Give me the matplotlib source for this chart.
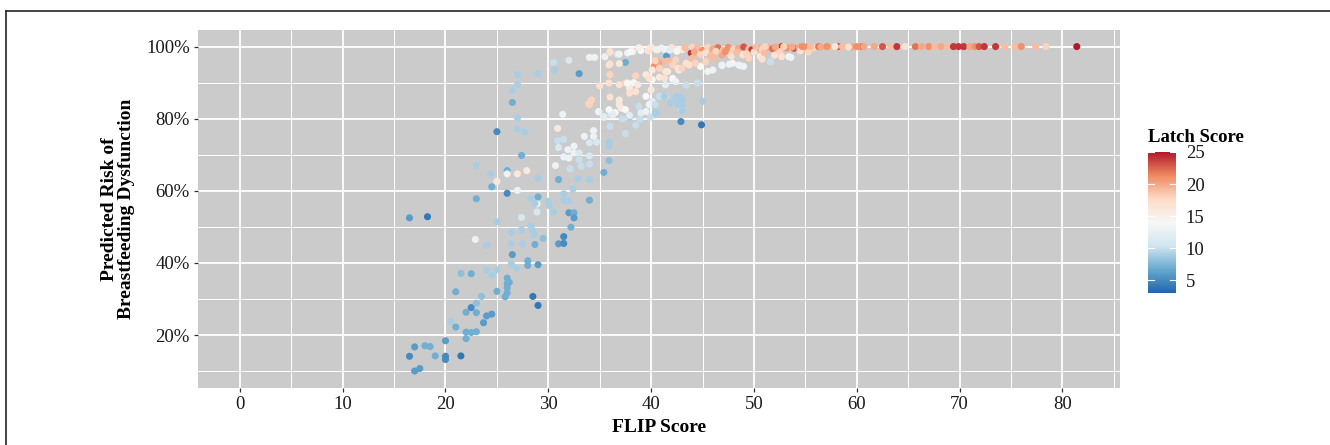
import matplotlib
matplotlib.use("Agg")
import matplotlib.pyplot as plt
from matplotlib.colors import LinearSegmentedColormap
from matplotlib.ticker import MultipleLocator, PercentFormatter
from matplotlib.lines import Line2D

plt.rcParams['font.family'] = ['Liberation Serif', 'DejaVu Serif']

flip_score = [
    # low, blue cluster
    16.5, 18.25, 17.0, 17.5, 16.5, 17.0, 18.0, 18.5, 19.0, 20.0,
    20.0, 20.0, 21.5, 20.5, 21.0, 22.0, 22.0, 22.5, 23.0, 22.0,
    22.5, 23.0, 23.0, 23.5, 23.7, 24.0, 24.5, 21.0, 21.5, 22.5,
    22.9, 24.0, 24.0, 24.5, 25.0, 25.0, 25.0, 25.8, 26.0, 26.0,
    26.0, 26.2, 26.0, 26.4, 26.9, 26.5, 26.4, 27.5, 28.7, 26.4,
    27.4, 28.3, 28.5, 28.6, 27.4, 28.0, 28.0, 29.0, 28.5, 29.0,
    29.5, 28.9, 28.9,
    # middle
    26.5, 27.0, 27.0, 27.7, 25.0, 27.4, 23.0, 24.4, 26.0, 26.0,
    27.0, 27.9, 25.0, 24.5, 26.0, 27.0, 23.0, 29.0, 29.0, 28.3,
    28.7, 30.0, 30.1, 30.5, 31.0, 31.5, 31.5, 32.0, 32.0, 32.5,
    32.5, 32.2, 31.5, 31.0, 31.5, 32.4, 32.9, 34.0, 34.0, 30.7,
    31.5, 32.0, 32.1, 30.9, 31.5, 31.0, 30.9, 31.4, 31.9, 32.5,
    32.5, 33.0, 33.0, 33.2, 34.0, 34.0, 34.0, 33.5, 34.4, 34.4,
    34.7, 34.9, 35.9, 35.9, 35.9, 35.4, 35.4, 36.0, 36.1, 37.5,
    38.5, 38.9, 39.9, 40.5,
    # upper
    30.5, 32.0, 30.6, 33.0, 27.0, 29.0, 27.0, 26.5, 34.0, 34.5,
    35.5, 36.0, 36.7, 36.0, 36.0, 37.5, 37.7, 38.2, 39.0, 39.7,
    40.5, 41.4, 42.1, 43.0, 41.5, 40.5, 40.3, 43.9, 35.0, 34.2,
    33.9, 36.0, 36.9, 35.9, 36.5, 37.1, 37.5, 34.9, 35.4, 36.3,
    37.2, 37.9, 35.9, 36.9, 37.5, 38.3, 38.5, 39.5, 40.1, 40.8,
    41.4, 42.1, 42.7, 43.4, 44.5, 42.6, 43.0, 42.9, 45.0, 41.4,
    41.9, 42.9, 44.9, 40.1, 40.8, 41.4, 42.4, 43.4, 44.0, 44.8,
    45.5, 46.0, 46.9, 47.9, 48.5, 49.0, 51.6,
    36.0, 36.9, 38.0, 39.8, 40.6, 42.4, 35.9, 36.9, 40.4, 40.8,
    41.6, 42.1, 41.6, 42.6, 43.0, 43.7, 44.3, 45.3, 46.1, 46.9,
    47.6, 48.9, 46.9, 47.6, 48.7, 53.4, 39.8, 41.3, 41.4, 42.1,
    42.4, 37.9, 38.5, 39.5, 40.0, 40.1, 40.8, 41.3, 42.4, 42.9,
    42.6, 43.0, 43.0, 34.0, 37.7, 38.7, 37.9, 36.9, 37.9, 38.8,
    39.0, 39.5, 39.8, 40.4, 40.4,
    # top band
    38.8, 40.0, 41.0, 42.0, 43.3, 44.0, 41.8, 42.5, 44.5, 45.0,
    45.5, 46.0, 46.5, 47.0, 47.5, 48.0, 48.5, 49.0, 49.5, 49.8,
    50.3, 50.8, 51.3, 51.8, 52.3, 52.7, 53.2, 53.9, 54.4, 55.0,
    55.8, 56.3, 57.5, 58.2, 59.5, 60.5, 44.2, 44.8, 45.3, 45.8,
    46.3, 47.2, 47.8, 48.3, 49.3, 50.0, 50.6, 51.0, 52.0, 52.5,
    53.6, 52.7, 54.5, 55.3, 49.5, 50.8,
    # right-hand row
    50.2, 51.1, 52.1, 52.9, 53.7, 54.7, 55.5, 56.5, 57.1, 57.9,
    58.6, 59.2, 60.0, 60.7, 61.7, 62.5, 63.3, 63.9, 64.7, 65.7,
    66.3, 67.0, 67.6, 68.2, 68.8, 69.4, 69.9, 70.4, 71.0, 71.5,
    71.9, 72.4, 73.5, 74.4, 75.4, 76.0, 77.4, 78.4, 81.4,
]

predicted_risk = [
    52.5, 52.8, 10.0, 10.7, 14.1, 16.7, 17.0, 16.8, 14.2, 14.1,
    13.2, 18.4, 14.2, 23.7, 22.2, 20.8, 19.0, 20.7, 20.9, 26.3,
    27.6, 26.2, 28.8, 30.7, 23.4, 25.3, 25.8, 32.0, 37.1, 37.0,
    46.5, 44.9, 38.0, 36.6, 38.1, 32.1, 51.4, 30.6, 31.7, 33.1,
    34.3, 34.6, 35.8, 39.7, 38.4, 42.3, 45.3, 45.3, 45.1, 48.5,
    49.2, 50.2, 49.0, 47.9, 52.6, 40.6, 39.3, 39.5, 30.7, 28.2,
    46.8, 56.4, 54.1,
    84.5, 80.2, 77.1, 76.3, 76.4, 69.8, 67.0, 64.7, 65.6, 64.7,
    64.7, 65.6, 62.6, 61.1, 59.3, 60.1, 57.8, 63.4, 58.3, 57.9,
    56.5, 57.1, 55.9, 54.1, 63.1, 59.2, 57.5, 57.1, 53.9, 53.9,
    52.5, 49.9, 47.3, 45.3, 45.4, 60.5, 63.3, 63.1, 57.4, 67.0,
    69.4, 69.1, 66.1, 73.9, 74.3, 72.0, 77.3, 81.2, 71.4, 72.4,
    70.5, 70.5, 68.6, 66.8, 67.4, 69.7, 73.3, 75.1, 76.7, 75.1,
    73.5, 81.9, 73.6, 72.3, 68.4, 65.1, 80.4, 77.9, 81.2, 75.9,
    78.2, 79.9, 80.4, 81.7,
    95.6, 96.2, 93.5, 92.5, 92.2, 92.5, 89.5, 87.8, 97.0, 97.0,
    97.2, 98.3, 97.9, 95.2, 92.2, 95.6, 98.2, 98.6, 98.9, 98.9,
    99.1, 98.9, 99.4, 99.1, 97.4, 96.0, 94.5, 98.2, 89.1, 85.2,
    84.1, 86.0, 85.2, 82.5, 81.7, 82.9, 82.5, 82.0, 80.6, 81.1,
    79.9, 80.4, 89.9, 89.4, 89.9, 90.0, 91.9, 92.2, 90.8, 91.5,
    93.1, 90.8, 93.5, 89.3, 89.9, 86.2, 85.2, 82.5, 84.8, 86.2,
    84.3, 79.2, 78.3, 93.5, 95.4, 95.8, 96.3, 95.4, 96.8, 94.5,
    93.1, 93.5, 94.9, 95.4, 94.9, 94.5, 95.8,
    98.6, 97.9, 98.6, 98.8, 99.1, 99.1, 94.9, 95.3, 96.1, 94.0,
    96.0, 94.9, 93.1, 94.0, 94.0, 94.9, 95.4, 95.8, 96.8, 97.7,
    98.2, 97.7, 94.7, 95.1, 94.7, 97.2, 91.2, 91.2, 89.4, 91.2,
    90.3, 88.5, 87.5, 86.2, 88.0, 84.8, 86.2, 86.2, 85.9, 85.9,
    83.9, 83.9, 82.2, 83.9, 89.9, 89.4, 87.1, 83.9, 80.9, 83.4,
    81.6, 82.0, 83.9, 81.6, 83.9,
    99.7, 99.8, 99.6, 99.8, 99.7, 99.9, 99.0, 98.7, 99.6, 99.0,
    99.8, 99.3, 99.7, 99.0, 99.8, 99.2, 99.6, 99.9, 99.3, 99.1,
    99.7, 99.2, 99.8, 99.4, 99.9, 100.0, 99.6, 99.5, 99.8, 99.9,
    99.7, 100.0, 99.9, 100.0, 99.9, 100.0, 98.5, 97.8, 98.3, 97.5,
    98.7, 98.6, 97.4, 98.4, 98.0, 98.5, 97.3, 98.2, 97.6, 98.6,
    97.0, 97.2, 98.8, 98.5, 96.8, 96.5,
    99.9, 100.0, 99.9, 100.0, 99.9, 100.0, 100.0, 99.9, 100.0, 100.0,
    100.0, 99.9, 100.0, 100.0, 100.0, 100.0, 100.0, 100.0, 100.0, 100.0,
    100.0, 100.0, 100.0, 100.0, 100.0, 100.0, 100.0, 100.0, 100.0, 100.0,
    100.0, 100.0, 100.0, 100.0, 100.0, 100.0, 100.0, 100.0, 100.0,
]

latch_score = [
    6, 4, 6, 6, 5, 6, 7, 7, 7, 5,
    5, 6, 4, 9, 7, 7, 7, 7, 7, 7,
    5, 7, 8, 8, 6, 6, 6, 7, 8, 7,
    13, 9, 9, 9, 9, 7, 9, 7, 7, 7,
    7, 7, 7, 9, 9, 6, 9, 9, 7, 9,
    9, 9, 9, 9, 11, 7, 7, 6, 4, 4,
    8, 13, 11,
    7, 9, 9, 9, 5, 7, 9, 9, 7, 13,
    16, 16, 16, 7, 5, 13, 7, 9, 7, 9,
    9, 9, 9, 9, 7, 9, 9, 9, 6, 7,
    6, 7, 5, 6, 5, 9, 9, 9, 7, 13,
    13, 13, 10, 10, 10, 11, 16, 13, 13, 13,
    13, 11, 10, 10, 10, 11, 11, 13, 13, 13,
    11, 13, 9, 9, 8, 7, 13, 10, 11, 10,
    10, 10, 10, 9,
    10, 11, 9, 6, 9, 9, 9, 9, 13, 13,
    13, 18, 11, 17, 18, 7, 13, 13, 14, 13,
    17, 13, 12, 16, 6, 20, 21, 24, 17, 18,
    18, 17, 16, 14, 14, 16, 14, 13, 12, 12,
    10, 9, 17, 17, 18, 14, 18, 16, 14, 16,
    17, 12, 16, 10, 10, 9, 9, 10, 9, 10,
    9, 5, 4, 16, 20, 19, 18, 17, 19, 14,
    13, 13, 13, 14, 13, 13, 10,
    17, 13, 14, 17, 13, 12, 17, 16, 18, 18,
    19, 18, 16, 17, 18, 17, 18, 18, 19, 20,
    18, 17, 13, 13, 13, 14, 17, 17, 12, 14,
    13, 16, 17, 14, 16, 12, 10, 9, 9, 9,
    9, 9, 9, 18, 14, 16, 17, 16, 12, 10,
    12, 13, 13, 9, 10,
    15, 16, 13, 17, 19, 18, 12, 14, 19, 21,
    18, 20, 22, 19, 21, 18, 20, 23, 19, 24,
    21, 18, 20, 22, 19, 24, 21, 23, 20, 21,
    18, 22, 19, 23, 20, 22, 20, 18, 17, 19,
    18, 21, 17, 19, 18, 17, 16, 19, 17, 18,
    13, 17, 17, 18, 18, 17,
    19, 18, 20, 18, 20, 21, 19, 20, 21, 16,
    19, 17, 21, 20, 20, 23, 19, 24, 17, 22,
    20, 21, 19, 20, 19, 24, 24, 24, 20, 21,
    23, 24, 24, 19, 19, 21, 19, 18, 25,
]

x_ticks = [0, 10, 20, 30, 40, 50, 60, 70, 80]
y_ticks = [20, 40, 60, 80, 100]
latch_ticks = [5, 10, 15, 20, 25]

# RdBu brewer palette, blue for low latch scores
rdbu = ['#2166AC', '#67A9CF', '#D1E5F0', '#F7F7F7', '#FDDBC7', '#EF8A62', '#B2182B']
cmap = LinearSegmentedColormap.from_list('rdbu_gg', rdbu)

W, H = 1330, 445
fig = plt.figure(figsize=(W / 100, H / 100), dpi=100)

ax = fig.add_axes([198 / W, 1 - 388 / H, (1120 - 198) / W, (388 - 30) / H])
ax.set_facecolor('#CBCBCB')
for sp in ax.spines.values():
    sp.set_visible(False)

ax.set_xlim(-4.07, 85.6)
ax.set_ylim(5.3, 104.6)
ax.set_xticks(x_ticks)
ax.set_yticks(y_ticks)
ax.xaxis.set_minor_locator(MultipleLocator(5))
ax.yaxis.set_minor_locator(MultipleLocator(10))
ax.yaxis.set_major_formatter(PercentFormatter(100, decimals=0))
ax.grid(which='major', color='white', linewidth=1.3)
ax.grid(which='minor', color='white', linewidth=0.7)
ax.set_axisbelow(True)
ax.tick_params(which='major', length=3, width=0.9, color='#333333',
               labelsize=13.5, labelcolor='#1a1a1a', pad=3)
ax.tick_params(which='minor', length=0)

sc = ax.scatter(flip_score, predicted_risk, c=latch_score, cmap=cmap,
                vmin=3, vmax=25, s=26, linewidths=0, zorder=3)

ax.set_xlabel('FLIP Score', fontsize=14, fontweight='bold', labelpad=4)
ax.set_ylabel('Predicted Risk of\nBreastfeeding Dysfunction', fontsize=14,
              fontweight='bold', labelpad=8, linespacing=1.0)

# colour bar legend
cax = fig.add_axes([1148 / W, 1 - 293 / H, 28 / W, (293 - 152) / H])
cb = fig.colorbar(sc, cax=cax, ticks=latch_ticks)
cb.outline.set_visible(False)
cax.tick_params(length=0, labelsize=13.5, labelcolor='#1a1a1a', pad=7)
for t in latch_ticks:
    cax.plot([0, 0.2], [t, t], color='white', lw=0.8, transform=cax.get_yaxis_transform())
    cax.plot([0.8, 1], [t, t], color='white', lw=0.8, transform=cax.get_yaxis_transform())
fig.text(1148 / W, 1 - 137 / H, 'Latch Score', fontsize=13.5, fontweight='bold',
         ha='left', va='center')

# frame around the figure
fig.add_artist(Line2D([6 / W, 1], [1 - 11 / H, 1 - 11 / H], color='#222222', lw=1.2))
fig.add_artist(Line2D([6 / W, 6 / W], [0, 1 - 11 / H], color='#222222', lw=1.2))

fig.savefig('out.png', dpi=100)
